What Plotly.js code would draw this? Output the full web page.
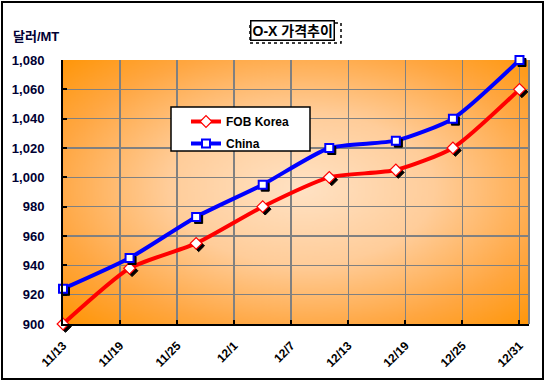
<!DOCTYPE html>
<html>
<head>
<meta charset="utf-8">
<script src="https://cdn.plot.ly/plotly-3.0.1.min.js"></script>
<style>
html,body{margin:0;padding:0;background:#fff;}
#wrap{position:relative;width:548px;height:381px;}
#chart{width:548px;height:381px;}
#frame{position:absolute;left:1px;top:1px;width:543px;height:379px;border:2px solid #000;box-sizing:border-box;pointer-events:none;}
</style>
</head>
<body>
<div id="wrap"><div id="chart"></div><div id="frame"></div></div>
<script>
// Data
const dates = ['2000-11-13','2000-11-20','2000-11-27','2000-12-04','2000-12-11','2000-12-18','2000-12-24','2000-12-31'];
const fobKorea = [900, 938, 955, 980, 1000, 1005, 1020, 1060];
const china = [924, 945, 973, 995, 1020, 1025, 1040, 1080];
const tickDates = ['2000-11-13','2000-11-19','2000-11-25','2000-12-01','2000-12-07','2000-12-13','2000-12-19','2000-12-25','2000-12-31'];
const tickLabels = ['11/13','11/19','11/25','12/1','12/7','12/13','12/19','12/25','12/31'];
const yTicks = [900,920,940,960,980,1000,1020,1040,1060,1080];

// background gradient image
function gradientURL(){
  const c = document.createElement('canvas');
  c.width = 400; c.height = 400;
  const g = c.getContext('2d');
  const rg = g.createRadialGradient(205,195,0,205,195,285);
  rg.addColorStop(0,'#FFE2C4');
  rg.addColorStop(0.4,'#FFCD9A');
  rg.addColorStop(0.75,'#FFA742');
  rg.addColorStop(1,'#FF9608');
  g.fillStyle = rg;
  g.fillRect(0,0,400,400);
  return c.toDataURL('image/png');
}

const W=548,H=381,L=63,R=19,T=60,B=57;
const pw=W-L-R, ph=H-T-B;
const px=(x)=>(x-L)/pw, py=(y)=>(H-B-y)/ph;

const fam = 'Liberation Sans, Arial, sans-serif';

const traces = [
  {x:dates, y:fobKorea, name:'<b>FOB Korea</b>', type:'scatter', mode:'lines+markers',
   legendgroup:'a',
   line:{color:'#FF0000', width:4, shape:'spline', smoothing:0.6},
   marker:{symbol:'diamond', size:9, color:'#FFFFFF', line:{color:'#FF0000', width:1.2}},
   cliponaxis:false},
  {x:dates, y:china, name:'<b>China</b>', type:'scatter', mode:'lines+markers',
   legendgroup:'b',
   line:{color:'#0000FF', width:4, shape:'spline', smoothing:0.6},
   marker:{symbol:'square', size:8, color:'#FFFFFF', line:{color:'#0000FF', width:2}},
   cliponaxis:false}
];

const layout = {
  width:W, height:H,
  margin:{l:L, r:R, t:T, b:B, pad:0},
  paper_bgcolor:'#FFFFFF',
  plot_bgcolor:'rgba(0,0,0,0)',
  font:{family:fam, size:12, color:'#000'},
  showlegend:true,
  legend:{x:px(186), y:py(107), xanchor:'left', yanchor:'top',
    bgcolor:'rgba(0,0,0,0)', borderwidth:0,
    font:{family:fam, size:12, color:'#000'},
    itemwidth:30, traceorder:'grouped', tracegroupgap:3},
  xaxis:{type:'date', range:['2000-11-13','2001-01-01'],
    tickvals:tickDates, ticktext:tickLabels, tickangle:-45,
    showgrid:true, gridcolor:'#808080', gridwidth:1.5,
    showline:true, linecolor:'#000', linewidth:2,
    ticks:'inside', ticklen:4, tickwidth:2, tickcolor:'#000',
    ticklabelstandoff:8,
    tickfont:{family:fam, size:12, color:'#000', weight:'bold'},
    zeroline:false, fixedrange:true},
  yaxis:{range:[900,1080], tickvals:yTicks, tickformat:',d',
    showgrid:true, gridcolor:'#808080', gridwidth:1.5,
    showline:true, linecolor:'#000', linewidth:2,
    ticks:'inside', ticklen:4, tickwidth:2, tickcolor:'#000',
    ticklabelstandoff:14,
    tickfont:{family:fam, size:13, color:'#000033', weight:'bold'},
    zeroline:false, fixedrange:true},
  images:[{source:gradientURL(), xref:'paper', yref:'paper', x:0, y:1, sizex:1, sizey:1,
    xanchor:'left', yanchor:'top', sizing:'stretch', layer:'below'}],
  shapes:[
    {type:'line', xref:'paper', yref:'paper', x0:1, x1:1, y0:0, y1:1, line:{color:'#808080', width:2}},
    {type:'rect', xref:'paper', yref:'paper', x0:px(250), x1:px(341), y0:py(43), y1:py(23),
      line:{color:'#000', width:1.5, dash:'dot'}, fillcolor:'rgba(0,0,0,0)'},
    {type:'rect', xref:'paper', yref:'paper', x0:px(171), x1:px(310), y0:py(151), y1:py(107),
      line:{color:'#000', width:1.5}, fillcolor:'#FFFFFF', layer:'above'}
  ],
  annotations:[
    {text:'<b>O-X 가격추이</b>', xref:'paper', yref:'paper', x:px(292.5), y:py(30),
      xanchor:'center', yanchor:'middle', showarrow:false,
      font:{family:'Liberation Sans, Noto Sans CJK KR, sans-serif', size:14, color:'#000'},
      bgcolor:'#FFFFFF', bordercolor:'#000', borderwidth:1.5, borderpad:1},
    {text:'<b>달러/MT</b>', xref:'paper', yref:'paper', x:px(11), y:py(36),
      xanchor:'left', yanchor:'middle', showarrow:false,
      font:{family:'Liberation Sans, Noto Sans CJK KR, sans-serif', size:13, color:'#000033'}}
  ]
};

Plotly.newPlot('chart', traces, layout, {displayModeBar:false, staticPlot:true}).then(function(gd){
  // drop shadows behind markers
  gd.querySelectorAll('.scatterlayer .trace .points path.point').forEach(function(p){
    const s = p.cloneNode(true);
    const tr = p.getAttribute('transform') || '';
    const m = tr.match(/translate\(([-\d.]+),\s*([-\d.]+)\)/);
    if(!m) return;
    s.setAttribute('transform','translate('+(parseFloat(m[1])+2.5)+','+(parseFloat(m[2])+2.5)+')');
    s.style.fill = '#000';
    s.style.stroke = '#000';
    s.style.strokeWidth = '1px';
    p.parentNode.insertBefore(s, p);
  });
});
</script>
</body>
</html>
